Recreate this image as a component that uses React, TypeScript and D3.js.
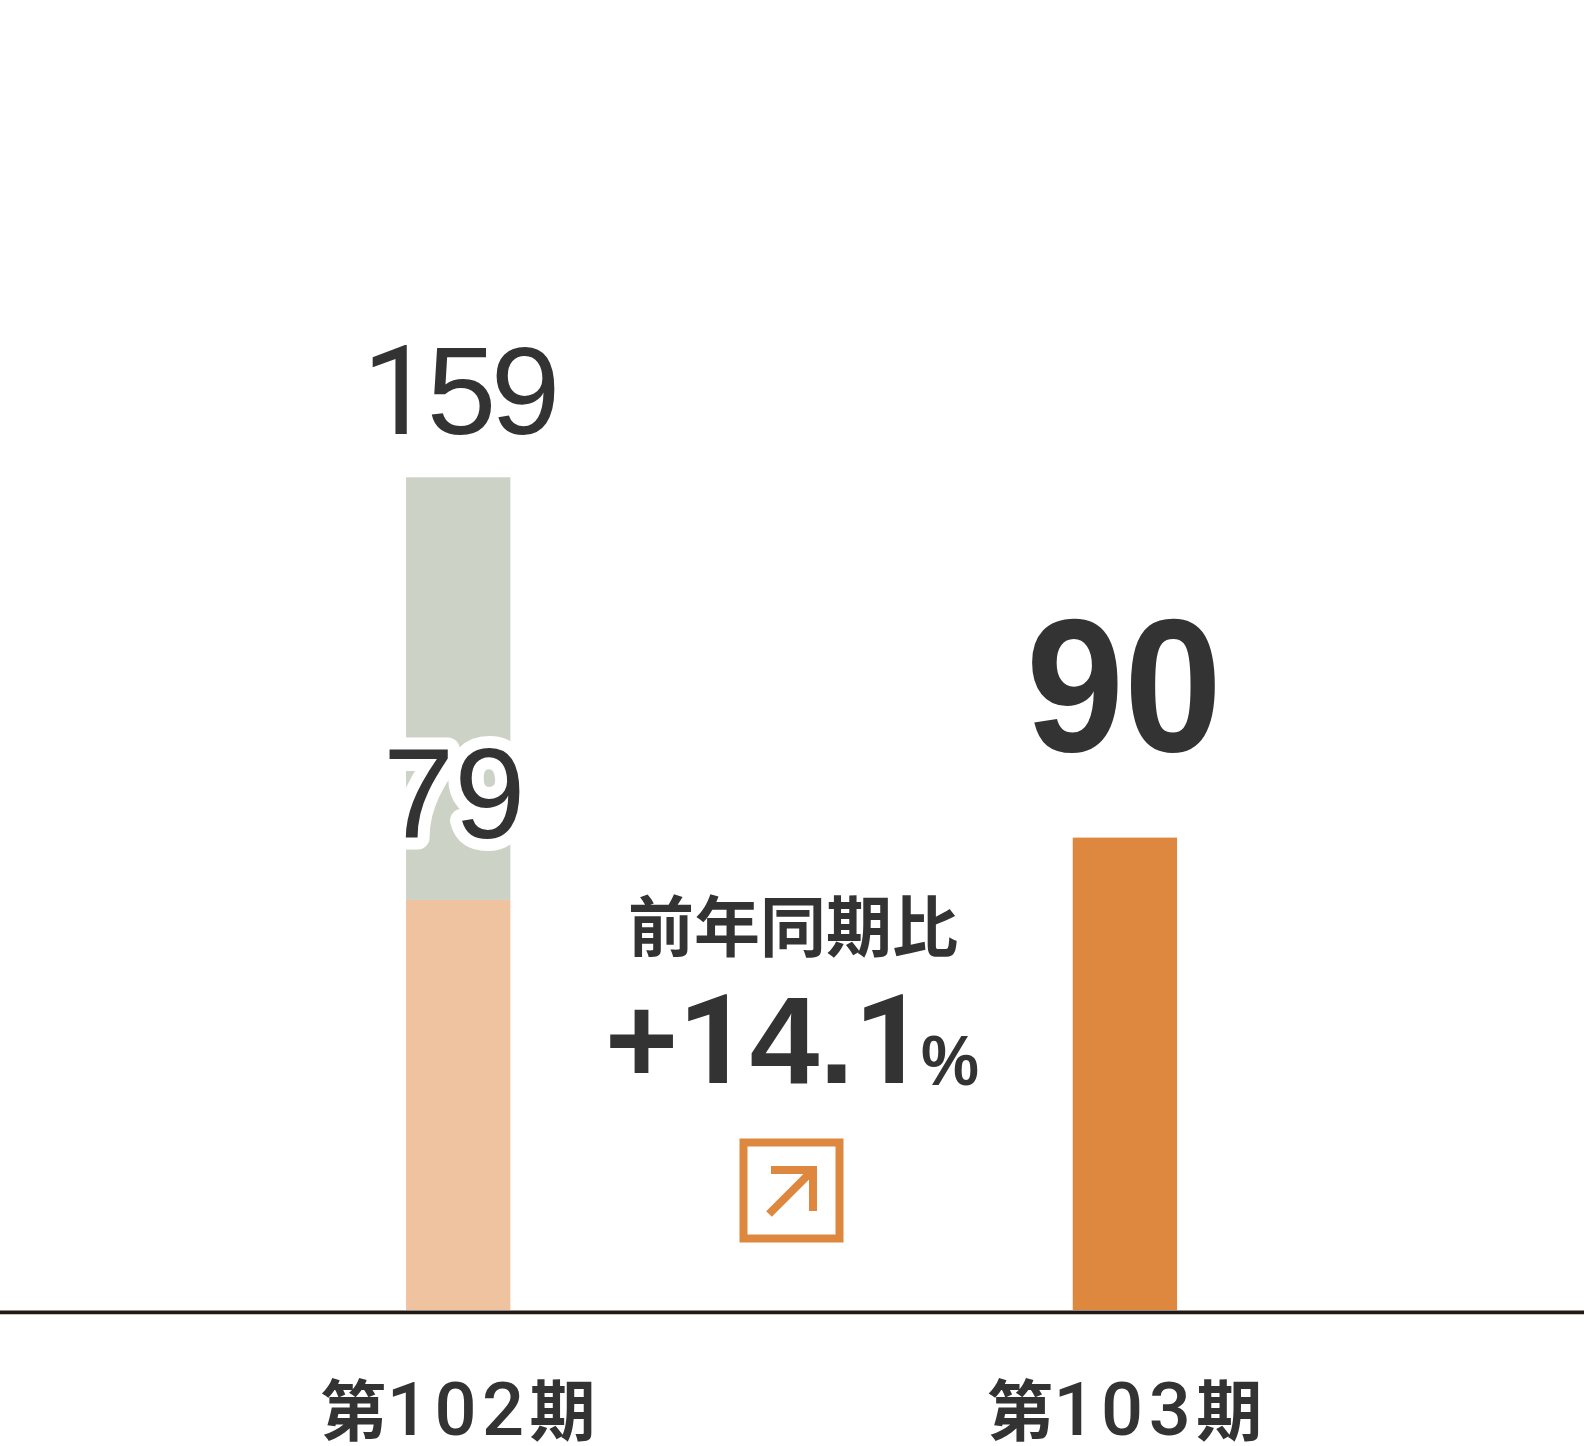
import * as d3 from 'd3';
import * as React from 'react';

const periods = ['第102期', '第103期'];
const lowerValues = [78.3, 90.2];
const upperValues = [80.7, 0];
const barLabels = ['159', '90'];
const innerLabel = '79';
const changeTitle = '前年同期比';
const changeValue = '+14.1';
const changeUnit = '%';

const WIDTH = 1584;
const HEIGHT = 1446;
const DARK = '#333333';
const FONT_LATIN = '"Liberation Sans", Arial, sans-serif';
const FONT_ONE = 'Roboto, sans-serif'; // Liberation's 1 has a foot, the reference's has none
const FONT_CJK = '"Noto Sans CJK JP", sans-serif';

const x = d3.scalePoint<string>().domain(periods).range([458.2, 1124.9]);
const y = d3.scaleLinear().domain([0, 159]).range([1310, 477.3]);
const barWidth = 104.3;

const fills = ['#f0c3a0', '#de873f'];

// swap the font for the digit 1 only
const digits = (s: string) =>
    s.split('').map((c, i) =>
        c === '1' ? <tspan key={i} fontFamily={FONT_ONE}>{c}</tspan> : <tspan key={i}>{c}</tspan>
    );

export default function App() {
    return (
        <svg
            width={WIDTH}
            height={HEIGHT}
            viewBox={`0 0 ${WIDTH} ${HEIGHT}`}
            style={{ position: 'absolute', left: 0, top: 0, background: '#fff' }}
        >
            {periods.map((p, i) => (
                <g key={p}>
                    <rect
                        x={x(p)! - barWidth / 2}
                        y={y(lowerValues[i])}
                        width={barWidth}
                        height={y(0) - y(lowerValues[i])}
                        fill={fills[i]}
                    />
                    {upperValues[i] > 0 && (
                        <rect
                            x={x(p)! - barWidth / 2}
                            y={y(lowerValues[i] + upperValues[i])}
                            width={barWidth}
                            height={y(lowerValues[i]) - y(lowerValues[i] + upperValues[i])}
                            fill="#ccd2c6"
                        />
                    )}
                </g>
            ))}

            <line x1={0} x2={WIDTH} y1={1312.3} y2={1312.3} stroke="#231815" strokeWidth={3.8} />

            {/* value labels */}
            <text x={x(periods[0])! + 3} y={434} textAnchor="middle" fontFamily={FONT_LATIN} fontSize={125} textLength={198} fill={DARK}>
                {digits(barLabels[0])}
            </text>
            <text
                x={x(periods[1])! - 1}
                y={751}
                textAnchor="middle"
                fontFamily={FONT_LATIN}
                fontWeight={700}
                fontSize={190}
                textLength={196}
                lengthAdjust="spacingAndGlyphs"
                fill={DARK}
            >
                {barLabels[1]}
            </text>
            <text
                x={x(periods[0])! - 4}
                y={838}
                textAnchor="middle"
                fontFamily={FONT_LATIN}
                fontSize={128}
                fill={DARK}
                stroke="#fff"
                strokeWidth={24}
                strokeLinejoin="round"
                paintOrder="stroke"
            >
                {innerLabel}
            </text>

            {/* year over year block */}
            <text x={793} y={951} textAnchor="middle" fontFamily={FONT_CJK} fontWeight={700} fontSize={66} fill={DARK}>
                {changeTitle}
            </text>
            <text x={605} y={1083} fontFamily={FONT_LATIN} fontWeight={700} fontSize={125} fill={DARK}>
                {digits(changeValue)}
            </text>
            <text
                x={921}
                y={1085}
                fontFamily={FONT_LATIN}
                fontWeight={700}
                fontSize={70}
                textLength={58}
                lengthAdjust="spacingAndGlyphs"
                fill={DARK}
            >
                {changeUnit}
            </text>
            <rect x={743.5} y={1142.5} width={96} height={96} fill="none" stroke="#de873f" strokeWidth={8} />
            <path d="M771 1170H813V1211M813 1170L769 1214" fill="none" stroke="#de873f" strokeWidth={8} />

            {/* category labels */}
            {periods.map(p => (
                <text
                    key={p}
                    x={x(p)}
                    y={1435}
                    textAnchor="middle"
                    fontFamily={FONT_CJK}
                    fontWeight={700}
                    fontSize={66}
                    fill={DARK}
                >
                    {p.slice(0, 1)}
                    <tspan fontFamily={FONT_ONE} fontWeight={500} fontSize={74} letterSpacing={5.5}>
                        {p.slice(1, -1)}
                    </tspan>
                    {p.slice(-1)}
                </text>
            ))}
        </svg>
    );
}
